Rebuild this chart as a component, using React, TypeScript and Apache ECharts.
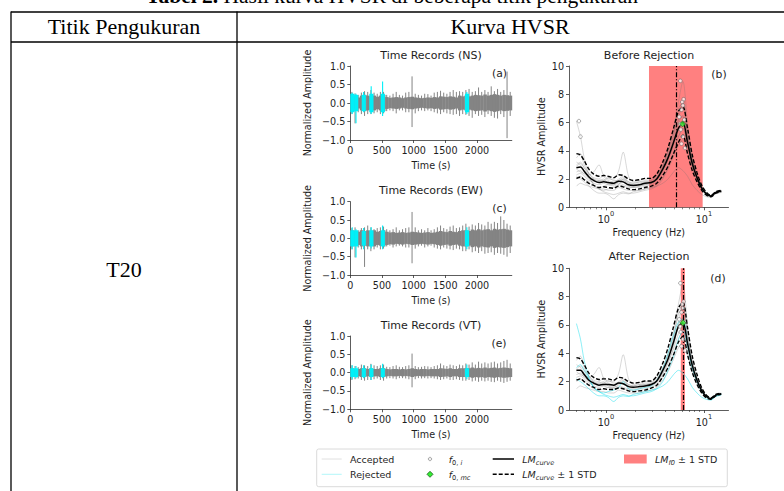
import React, { useEffect, useRef } from 'react';
import * as echarts from 'echarts';

// ---------- Time records (binned envelope, 50 s bins) ----------
const timeBinStarts = [0, 50, 100, 150, 200, 250, 300, 350, 400, 450, 500, 550, 600, 650, 700, 750, 800, 850, 900, 950, 1000, 1050, 1100, 1150, 1200, 1250, 1300, 1350, 1400, 1450, 1500, 1550, 1600, 1650, 1700, 1750, 1800, 1850, 1900, 1950, 2000, 2050, 2100, 2150, 2200, 2250, 2300, 2350, 2400, 2450, 2500];
const timeTicks = [0, 500, 1000, 1500, 2000];

const nsCore = [0.20, 0.18, 0.15, 0.20, 0.22, 0.20, 0.18, 0.20, 0.17, 0.20, 0.22, 0.16, 0.14, 0.15, 0.16, 0.15, 0.13, 0.15, 0.16, 0.17, 0.15, 0.14, 0.13, 0.14, 0.15, 0.14, 0.16, 0.15, 0.18, 0.17, 0.16, 0.18, 0.17, 0.15, 0.20, 0.18, 0.20, 0.18, 0.20, 0.22, 0.21, 0.20, 0.23, 0.20, 0.22, 0.24, 0.22, 0.20, 0.22, 0.21, 0.20];
const nsHi = [0.30, 0.26, 0.22, 0.28, 0.32, 0.30, 0.35, 0.28, 0.25, 0.30, 0.30, 0.22, 0.20, 0.25, 0.30, 0.22, 0.20, 0.28, 0.30, 0.72, 0.25, 0.22, 0.20, 0.25, 0.24, 0.20, 0.28, 0.30, 0.33, 0.28, 0.25, 0.30, 0.35, 0.30, 0.32, 0.30, 0.35, 0.38, 0.30, 0.32, 0.42, 0.30, 0.35, 0.30, 0.45, 0.32, 0.38, 0.30, 0.35, 0.85, 0.30];
const nsLo = [-0.30, -0.55, -0.25, -0.30, -0.35, -0.30, -0.30, -0.28, -0.25, -0.30, -0.28, -0.22, -0.20, -0.22, -0.28, -0.20, -0.20, -0.25, -0.25, -0.65, -0.28, -0.22, -0.20, -0.22, -0.20, -0.22, -0.25, -0.28, -0.30, -0.25, -0.28, -0.30, -0.32, -0.30, -0.35, -0.30, -0.32, -0.35, -0.40, -0.30, -0.35, -0.32, -0.38, -0.30, -0.35, -0.40, -0.42, -0.30, -0.38, -0.95, -0.35];

const ewCore = [0.22, 0.20, 0.18, 0.22, 0.20, 0.22, 0.20, 0.22, 0.18, 0.20, 0.22, 0.18, 0.16, 0.17, 0.15, 0.16, 0.17, 0.15, 0.16, 0.18, 0.17, 0.16, 0.15, 0.16, 0.17, 0.15, 0.16, 0.18, 0.20, 0.18, 0.17, 0.20, 0.18, 0.17, 0.20, 0.22, 0.22, 0.20, 0.24, 0.22, 0.25, 0.22, 0.24, 0.25, 0.22, 0.26, 0.24, 0.25, 0.26, 0.24, 0.22];
const ewHi = [0.28, 0.30, 0.22, 0.28, 0.30, 0.35, 0.30, 0.25, 0.28, 0.30, 0.32, 0.25, 0.22, 0.25, 0.30, 0.22, 0.25, 0.28, 0.30, 0.72, 0.30, 0.22, 0.25, 0.22, 0.28, 0.22, 0.25, 0.30, 0.35, 0.28, 0.25, 0.32, 0.35, 0.28, 0.30, 0.35, 0.40, 0.32, 0.38, 0.35, 0.42, 0.38, 0.35, 0.45, 0.40, 0.45, 0.42, 0.60, 0.50, 0.40, 0.35];
const ewLo = [-0.30, -0.52, -0.25, -0.30, -0.78, -0.30, -0.35, -0.30, -0.25, -0.30, -0.28, -0.22, -0.20, -0.25, -0.22, -0.20, -0.22, -0.25, -0.25, -0.68, -0.28, -0.22, -0.20, -0.25, -0.22, -0.20, -0.25, -0.28, -0.30, -0.25, -0.28, -0.30, -0.32, -0.28, -0.30, -0.35, -0.35, -0.30, -0.38, -0.35, -0.40, -0.35, -0.42, -0.40, -0.38, -0.45, -0.40, -0.42, -0.45, -0.50, -0.40];

const vtCore = [0.12, 0.10, 0.10, 0.12, 0.12, 0.10, 0.12, 0.10, 0.10, 0.12, 0.12, 0.10, 0.09, 0.10, 0.10, 0.09, 0.10, 0.09, 0.10, 0.12, 0.10, 0.09, 0.10, 0.10, 0.09, 0.10, 0.10, 0.10, 0.12, 0.11, 0.10, 0.12, 0.10, 0.10, 0.12, 0.12, 0.12, 0.12, 0.14, 0.12, 0.13, 0.12, 0.14, 0.12, 0.13, 0.14, 0.12, 0.13, 0.14, 0.13, 0.12];
const vtHi = [0.20, 0.18, 0.15, 0.22, 0.20, 0.18, 0.24, 0.20, 0.18, 0.20, 0.22, 0.16, 0.15, 0.18, 0.20, 0.16, 0.15, 0.18, 0.20, 0.52, 0.18, 0.15, 0.16, 0.18, 0.17, 0.15, 0.18, 0.20, 0.25, 0.20, 0.18, 0.22, 0.20, 0.18, 0.22, 0.20, 0.25, 0.22, 0.28, 0.22, 0.30, 0.25, 0.28, 0.25, 0.28, 0.30, 0.25, 0.28, 0.32, 0.35, 0.25];
const vtLo = [-0.20, -0.18, -0.16, -0.20, -0.22, -0.20, -0.20, -0.18, -0.16, -0.20, -0.22, -0.16, -0.15, -0.16, -0.18, -0.15, -0.15, -0.16, -0.18, -0.40, -0.18, -0.15, -0.16, -0.15, -0.16, -0.15, -0.16, -0.18, -0.20, -0.18, -0.16, -0.20, -0.20, -0.18, -0.20, -0.22, -0.22, -0.20, -0.24, -0.22, -0.25, -0.22, -0.24, -0.22, -0.25, -0.26, -0.22, -0.25, -0.28, -0.25, -0.22];

// rejected windows (cyan)
const rejStart = [0, 60, 180, 300, 480, 1810];
const rejEnd = [60, 120, 240, 360, 540, 1870];
const nsRejCore = [0.25, 0.22, 0.22, 0.25, 0.25, 0.25];
const nsRejHi = [0.28, 0.25, 0.30, 0.45, 0.58, 0.30];
const nsRejLo = [-0.30, -0.55, -0.25, -0.30, -0.35, -0.30];
const ewRejCore = [0.22, 0.22, 0.20, 0.22, 0.22, 0.22];
const ewRejHi = [0.30, 0.25, 0.28, 0.30, 0.35, 0.30];
const ewRejLo = [-0.30, -0.52, -0.30, -0.28, -0.30, -0.30];
const vtRejCore = [0.12, 0.12, 0.12, 0.12, 0.12, 0.12];
const vtRejHi = [0.20, 0.18, 0.20, 0.22, 0.24, 0.22];
const vtRejLo = [-0.18, -0.15, -0.15, -0.20, -0.15, -0.18];

// ---------- HVSR curves ----------
const freqs = [0.5, 0.55, 0.6, 0.67, 0.75, 0.85, 0.95, 1.05, 1.2, 1.35, 1.5, 1.7, 1.9, 2.2, 2.5, 2.9, 3.3, 3.8, 4.3, 4.9, 5.5, 6.1, 6.8, 7.6, 8.5, 9.5, 10.6, 11.8, 13.2, 15];
const freqMajorTicks = [1, 10];
const freqMinorTicks = [0.5, 0.6, 0.7, 0.8, 0.9, 2, 3, 4, 5, 6, 7, 8, 9];

const lmBefore = [2.8, 2.85, 2.55, 2.15, 1.9, 1.75, 1.8, 1.75, 1.7, 1.85, 1.8, 1.6, 1.55, 1.6, 1.7, 1.75, 2.0, 2.7, 3.5, 4.6, 5.6, 6.0, 4.6, 3.1, 2.1, 1.35, 0.95, 0.8, 1.05, 1.15];
const lmBeforeUp = [3.8, 3.7, 3.3, 2.7, 2.35, 2.2, 2.25, 2.2, 2.1, 2.3, 2.25, 2.0, 1.9, 1.95, 2.05, 2.05, 2.35, 3.2, 4.2, 5.6, 6.8, 7.1, 5.6, 3.7, 2.45, 1.55, 1.05, 0.85, 1.1, 1.2];
const lmBeforeLo = [2.05, 2.15, 1.95, 1.7, 1.55, 1.4, 1.45, 1.4, 1.35, 1.5, 1.45, 1.3, 1.25, 1.3, 1.4, 1.5, 1.7, 2.25, 2.9, 3.8, 4.6, 5.1, 3.8, 2.6, 1.8, 1.2, 0.85, 0.75, 1.0, 1.1];
const lmAfter = [2.8, 2.8, 2.5, 2.1, 1.9, 1.75, 1.8, 1.8, 1.75, 1.9, 1.85, 1.65, 1.6, 1.65, 1.7, 1.8, 2.05, 2.8, 3.6, 4.8, 5.9, 6.15, 4.7, 3.15, 2.1, 1.35, 0.95, 0.8, 1.05, 1.15];
const lmAfterUp = [3.7, 3.6, 3.2, 2.6, 2.3, 2.15, 2.2, 2.2, 2.1, 2.3, 2.25, 2.0, 1.9, 1.95, 2.05, 2.05, 2.4, 3.3, 4.4, 5.9, 7.2, 7.6, 5.8, 3.8, 2.5, 1.55, 1.05, 0.85, 1.1, 1.2];
const lmAfterLo = [2.1, 2.2, 2.0, 1.75, 1.6, 1.45, 1.5, 1.45, 1.45, 1.55, 1.5, 1.35, 1.3, 1.35, 1.4, 1.55, 1.75, 2.35, 3.0, 3.9, 4.8, 5.2, 3.9, 2.65, 1.8, 1.2, 0.85, 0.75, 1.0, 1.1];

const win1 = [3.5, 3.8, 3.0, 2.4, 2.1, 2.0, 2.3, 2.0, 2.0, 2.6, 3.9, 2.2, 1.8, 1.9, 2.0, 2.0, 2.3, 3.0, 4.0, 5.6, 7.5, 8.9, 6.0, 3.6, 2.3, 1.5, 1.0, 0.8, 1.1, 1.2];
const win2 = [2.5, 2.6, 2.3, 2.0, 1.7, 1.6, 1.7, 1.6, 1.6, 1.7, 1.6, 1.5, 1.5, 1.5, 1.6, 1.7, 1.9, 2.5, 3.3, 4.5, 6.2, 7.6, 5.4, 3.3, 2.2, 1.4, 0.95, 0.8, 1.05, 1.15];
const win3 = [2.0, 2.2, 2.0, 1.8, 1.5, 1.4, 1.5, 1.6, 1.5, 1.6, 1.5, 1.4, 1.4, 1.4, 1.5, 1.6, 1.8, 2.3, 3.0, 4.0, 5.0, 5.6, 4.3, 2.9, 2.0, 1.3, 0.9, 0.78, 1.02, 1.12];
const win4 = [3.2, 3.0, 2.6, 2.2, 2.0, 1.9, 1.9, 2.1, 1.9, 1.9, 2.0, 1.8, 1.7, 1.8, 1.9, 1.9, 2.1, 2.8, 3.7, 5.0, 6.8, 7.2, 5.0, 3.2, 2.1, 1.4, 0.95, 0.8, 1.05, 1.15];
const win5 = [1.5, 1.7, 1.6, 1.5, 1.4, 1.3, 1.3, 1.2, 1.2, 1.4, 1.3, 1.2, 1.2, 1.2, 1.3, 1.4, 1.6, 2.1, 2.7, 3.6, 4.4, 4.8, 3.9, 2.7, 1.9, 1.25, 0.88, 0.76, 1.0, 1.1];
const win6 = [2.9, 3.1, 2.8, 2.4, 2.0, 1.8, 1.9, 1.8, 1.7, 1.9, 2.1, 1.7, 1.6, 1.7, 1.8, 1.8, 2.1, 2.7, 3.6, 4.8, 6.0, 6.5, 4.8, 3.2, 2.1, 1.35, 0.95, 0.8, 1.05, 1.15];
const win7 = [2.3, 2.4, 2.2, 1.9, 1.8, 1.9, 2.0, 1.7, 1.6, 1.8, 1.9, 1.7, 1.6, 1.6, 1.7, 1.8, 2.0, 2.6, 3.4, 4.3, 5.4, 5.9, 4.6, 3.0, 2.0, 1.35, 0.95, 0.8, 1.05, 1.15];
const win8 = [2.7, 2.5, 2.4, 2.3, 2.5, 3.0, 2.2, 1.9, 1.8, 2.0, 2.2, 1.8, 1.7, 1.8, 1.8, 1.9, 2.2, 2.9, 3.9, 5.2, 7.0, 7.4, 5.2, 3.4, 2.2, 1.4, 1.0, 0.82, 1.05, 1.15];
const rej1 = [6.1, 5.0, 3.5, 2.3, 1.6, 1.3, 1.1, 1.0, 0.9, 1.0, 1.1, 1.0, 1.0, 1.1, 1.2, 1.3, 1.5, 2.0, 2.8, 3.8, 5.0, 5.6, 4.5, 3.0, 2.0, 1.3, 0.9, 0.75, 1.0, 1.1];
const rej2 = [2.2, 2.0, 1.8, 1.5, 1.2, 1.0, 1.0, 0.9, 0.6, 0.9, 1.0, 0.95, 1.1, 1.2, 1.3, 1.4, 1.5, 1.7, 2.0, 2.5, 2.8, 2.6, 2.2, 1.6, 1.2, 0.9, 0.75, 0.7, 0.95, 1.05];
const rej3 = [3.0, 3.2, 2.8, 2.2, 1.6, 1.3, 1.2, 1.3, 1.4, 1.6, 2.0, 1.5, 1.4, 1.5, 1.6, 1.7, 2.1, 2.9, 4.0, 5.3, 6.2, 6.4, 4.8, 3.1, 2.1, 1.35, 0.95, 0.8, 1.05, 1.15];

const f0iBeforeF = [0.53, 0.55, 5.75, 6.2, 6.0, 6.1, 5.9, 5.6, 6.3, 5.7, 5.8, 6.1, 5.9, 6.4];
const f0iBeforeA = [6.1, 5.0, 8.95, 7.65, 7.45, 7.2, 6.9, 6.4, 6.2, 5.9, 5.5, 5.0, 4.5, 4.2];
const f0iAfterF = [5.75, 6.2, 6.0, 6.1, 5.9, 5.6, 6.3, 5.7, 5.8, 6.1, 5.9, 6.4];
const f0iAfterA = [8.95, 7.65, 7.45, 7.2, 6.9, 6.4, 6.2, 5.9, 5.5, 5.0, 4.5, 4.2];
const f0mcBefore = [6.05, 5.9];
const f0mcAfter = [6.1, 6.15];
const lmF0Before = 5.26;
const lmF0BandBefore = [2.75, 9.7];
const lmF0After = 6.1;
const lmF0BandAfter = [5.8, 6.4];

const FF = 'DejaVu Sans';
const SERIF = 'Liberation Serif';
const GRAY = '#848484';
const CYAN = '#00f0f8';
const AX = { color: '#333', width: 0.8 };
const TXT = '#1e1e1e';

function binSeries(idx: number, data: number[][], color: string) {
  return {
    type: 'custom', xAxisIndex: idx, yAxisIndex: idx, silent: true, z: 2,
    data, encode: { x: [0, 1], y: [2, 3] },
    renderItem: (_p: any, api: any) => {
      const a = api.coord([api.value(0), api.value(3)]);
      const b = api.coord([api.value(1), api.value(2)]);
      return { type: 'rect', shape: { x: a[0], y: a[1], width: b[0] - a[0] + 0.4, height: b[1] - a[1] }, style: { fill: color } };
    },
  };
}
function spikeSeries(idx: number, data: number[][], color: string, w: number) {
  return {
    type: 'custom', xAxisIndex: idx, yAxisIndex: idx, silent: true, z: 3,
    data, encode: { x: 0, y: [1, 2] },
    renderItem: (_p: any, api: any) => {
      const a = api.coord([api.value(0), api.value(2)]);
      const b = api.coord([api.value(0), api.value(1)]);
      return { type: 'line', shape: { x1: a[0], y1: a[1], x2: b[0], y2: b[1] }, style: { stroke: color, lineWidth: w } };
    },
  };
}
function timeSeries(idx: number, core: number[], hi: number[], lo: number[], rc: number[], rh: number[], rl: number[]) {
  const bins = timeBinStarts.map((t, i) => [t, t + 50, -core[i], core[i]]);
  const spikes = timeBinStarts.map((t, i) => [t + 25, lo[i], hi[i]]);
  const rbins = rejStart.map((t, i) => [t, rejEnd[i], -rc[i], rc[i]]);
  const rspikes = rejStart.map((t, i) => [(t + rejEnd[i]) / 2, rl[i], rh[i]]);
  return [
    binSeries(idx, bins, GRAY),
    spikeSeries(idx, spikes, GRAY, 1),
    { ...binSeries(idx, rbins, CYAN), z: 4 },
    { ...spikeSeries(idx, rspikes, CYAN, 1.1), z: 5 },
  ];
}
const pts = (ys: number[]) => freqs.map((f, i) => [f, ys[i]]);

function hvsrSeries(idx: number, after: boolean) {
  const lm = after ? lmAfter : lmBefore;
  const up = after ? lmAfterUp : lmBeforeUp;
  const lo = after ? lmAfterLo : lmBeforeLo;
  const band = after ? lmF0BandAfter : lmF0BandBefore;
  const f0 = after ? lmF0After : lmF0Before;
  const fF = after ? f0iAfterF : f0iBeforeF;
  const fA = after ? f0iAfterA : f0iBeforeA;
  const mc = after ? f0mcAfter : f0mcBefore;
  const accepted = [win1, win2, win3, win4, win5, win6, win7, win8];
  const rejected = [rej1, rej2, rej3];
  const base = { type: 'line', xAxisIndex: idx, yAxisIndex: idx, showSymbol: false, silent: true, smooth: 0.3 };
  const grayLine = { color: 'rgba(110,110,110,0.45)', width: 0.6 };
  const s: any[] = [];
  s.push({
    ...base, data: [], z: 1,
    markArea: { silent: true, itemStyle: { color: '#ff8080' }, data: [[{ xAxis: band[0] }, { xAxis: band[1] }]] },
  });
  accepted.forEach((w) => s.push({ ...base, data: pts(w), z: 2, lineStyle: grayLine }));
  rejected.forEach((w) => s.push({ ...base, data: pts(w), z: 2, lineStyle: after ? { color: 'rgba(0,220,235,0.75)', width: 0.6 } : grayLine }));
  s.push({ ...base, data: pts(lm), z: 4, lineStyle: { color: '#000', width: 1.5 } });
  s.push({ ...base, data: pts(up), z: 4, lineStyle: { color: '#000', width: 1.4, type: [4, 2] } });
  s.push({ ...base, data: pts(lo), z: 4, lineStyle: { color: '#000', width: 1.4, type: [4, 2] } });
  s.push({
    ...base, data: [], z: 5,
    markLine: { silent: true, symbol: 'none', label: { show: false }, lineStyle: { color: '#000', width: 1.2, type: [5, 2, 1, 2] }, data: [{ xAxis: f0 }] },
  });
  s.push({
    type: 'scatter', xAxisIndex: idx, yAxisIndex: idx, silent: true, z: 6, symbol: 'circle', symbolSize: 3.6,
    itemStyle: { color: 'rgba(255,255,255,0.9)', borderColor: '#555', borderWidth: 0.6 },
    data: fF.map((f, i) => [f, fA[i]]),
  });
  s.push({
    type: 'scatter', xAxisIndex: idx, yAxisIndex: idx, silent: true, z: 7, symbol: 'diamond', symbolSize: 6,
    itemStyle: { color: '#33ee33', borderColor: '#1a5a1a', borderWidth: 0.8 },
    data: [mc],
  });
  return s;
}

const tickLabel = { fontSize: 9.6, color: TXT, fontFamily: FF };
const nameStyle = { fontSize: 9.6, color: TXT, fontFamily: FF };

function timeX(gi: number) {
  return {
    type: 'value', gridIndex: gi, min: 0, max: 2550,
    axisLine: { show: true, onZero: false, lineStyle: AX },
    axisTick: { show: true, length: 3, customValues: timeTicks, lineStyle: AX },
    axisLabel: { ...tickLabel, margin: 5, customValues: timeTicks, formatter: (v: number) => String(v) },
    splitLine: { show: false },
    name: 'Time (s)', nameLocation: 'middle', nameGap: 20, nameTextStyle: nameStyle,
  };
}
function timeY(gi: number) {
  return {
    type: 'value', gridIndex: gi, min: -1, max: 1, interval: 0.5,
    axisLine: { show: true, onZero: false, lineStyle: AX },
    axisTick: { show: true, length: 3, lineStyle: AX },
    axisLabel: { ...tickLabel, margin: 5, formatter: (v: number) => (v < 0 ? '\u2212' : '') + Math.abs(v).toFixed(1) },
    splitLine: { show: false },
    name: 'Normalized Amplitude', nameLocation: 'middle', nameGap: 38, nameTextStyle: nameStyle,
  };
}
function freqX(gi: number) {
  return {
    type: 'log', gridIndex: gi, min: 0.42, max: 17.8,
    axisLine: { show: true, onZero: false, lineStyle: AX },
    axisTick: { show: true, length: 3, customValues: freqMajorTicks, lineStyle: AX },
    axisLabel: {
      ...tickLabel, margin: 3, customValues: freqMajorTicks,
      formatter: (v: number) => '{b|10}{s|' + Math.round(Math.log10(v)) + '}',
      rich: {
        b: { fontSize: 9.6, fontFamily: FF, color: TXT, lineHeight: 14, verticalAlign: 'bottom' },
        s: { fontSize: 6.7, fontFamily: FF, color: TXT, lineHeight: 14, verticalAlign: 'top' },
      },
    },
    splitLine: { show: false },
    name: 'Frequency (Hz)', nameLocation: 'middle', nameGap: 20, nameTextStyle: nameStyle,
  };
}
function freqMinorX(gi: number) {
  return {
    type: 'log', gridIndex: gi, min: 0.42, max: 17.8, position: 'bottom',
    axisLine: { show: false, onZero: false },
    axisTick: { show: true, length: 2, customValues: freqMinorTicks, lineStyle: { color: '#333', width: 0.6 } },
    axisLabel: { show: false },
    splitLine: { show: false },
  };
}
function hvsrY(gi: number) {
  return {
    type: 'value', gridIndex: gi, min: 0, max: 10, interval: 2,
    axisLine: { show: true, onZero: false, lineStyle: AX },
    axisTick: { show: true, length: 3, lineStyle: AX },
    axisLabel: { ...tickLabel, margin: 5 },
    splitLine: { show: false },
    name: 'HVSR Amplitude', nameLocation: 'middle', nameGap: 23, nameTextStyle: nameStyle,
  };
}

function txt(x: number, y: number, text: string, size: number, extra: any = {}) {
  return {
    type: 'text', x, y, silent: true,
    style: { text, fontSize: size, fontFamily: FF, fill: TXT, align: 'center', verticalAlign: 'middle', ...extra },
  };
}

const legRich = {
  n: { fontSize: 9.5, fontFamily: FF, fill: TXT, lineHeight: 14, verticalAlign: 'middle' },
  i: { fontSize: 9.5, fontFamily: FF, fontStyle: 'italic', fill: TXT, lineHeight: 14, verticalAlign: 'middle' },
  s: { fontSize: 6.6, fontFamily: FF, fill: TXT, lineHeight: 14, verticalAlign: 'bottom' },
  si: { fontSize: 6.6, fontFamily: FF, fontStyle: 'italic', fill: TXT, lineHeight: 14, verticalAlign: 'bottom' },
};
function legText(x: number, y: number, text: string) {
  return { type: 'text', x, y, silent: true, style: { text, rich: legRich, align: 'left', verticalAlign: 'middle', fontSize: 9.5, fontFamily: FF, fill: TXT } };
}

export default function App() {
  const ref = useRef<HTMLDivElement>(null);
  useEffect(() => {
    if (!ref.current) return;
    const chart = echarts.init(ref.current, undefined, { renderer: 'svg' });
    const grids = [
      { left: 350.3, top: 66, width: 161.5, height: 74 },
      { left: 350.3, top: 201.7, width: 161.5, height: 73.3 },
      { left: 350.3, top: 336, width: 161.5, height: 73.3 },
      { left: 569, top: 66, width: 159.5, height: 141.3 },
      { left: 569, top: 268.3, width: 159.5, height: 141.7 },
    ];
    const line = (x1: number, y1: number, x2: number, y2: number, w = 1.3) => ({
      type: 'line', silent: true, shape: { x1, y1, x2, y2 }, style: { stroke: '#000', lineWidth: w },
    });
    const graphic: any[] = [
      // table
      line(11, 12, 784, 12), line(11, 42, 784, 42), line(11, 11.4, 11, 491), line(237, 11.4, 237, 491),
      {
        type: 'text', x: 392, y: -4.5, silent: true,
        style: {
          text: '{b|Tabel 2.}{r| Hasil kurva HVSR di beberapa titik pengukuran}', align: 'center', verticalAlign: 'middle',
          rich: {
            b: { fontSize: 21.5, fontFamily: SERIF, fontWeight: 'bold', fill: '#000' },
            r: { fontSize: 21.5, fontFamily: SERIF, fill: '#000' },
          },
        },
      },
      txt(124, 26, 'Titik Pengukuran', 22, { fontFamily: SERIF, fill: '#000' }),
      txt(510, 26, 'Kurva HVSR', 22, { fontFamily: SERIF, fill: '#000' }),
      txt(124, 269, 'T20', 22, { fontFamily: SERIF, fill: '#000' }),
      // subplot titles / tags
      txt(431, 55, 'Time Records (NS)', 11),
      txt(431, 190, 'Time Records (EW)', 11),
      txt(431, 325, 'Time Records (VT)', 11),
      txt(649, 55, 'Before Rejection', 11),
      txt(649, 256.7, 'After Rejection', 11),
      txt(499.5, 73, '(a)', 10.8),
      txt(499.5, 208, '(c)', 10.8),
      txt(499, 343, '(e)', 10.8),
      txt(719, 74, '(b)', 10.8),
      txt(718, 278.3, '(d)', 10.8),
      // legend
      { type: 'rect', silent: true, shape: { x: 316.7, y: 449, width: 410.6, height: 37.7, r: 2 }, style: { fill: '#fff', stroke: '#d0d0d0', lineWidth: 0.8 } },
      { type: 'line', silent: true, shape: { x1: 321.7, y1: 459, x2: 341.7, y2: 459 }, style: { stroke: '#d8d8d8', lineWidth: 0.8 } },
      { type: 'line', silent: true, shape: { x1: 321.7, y1: 474.3, x2: 341.7, y2: 474.3 }, style: { stroke: '#9ff4f8', lineWidth: 0.8 } },
      legText(350, 459, '{n|Accepted}'),
      legText(350, 474.3, '{n|Rejected}'),
      { type: 'circle', silent: true, shape: { cx: 430, cy: 459, r: 1.7 }, style: { fill: '#eee', stroke: '#777', lineWidth: 0.6 } },
      { type: 'polygon', silent: true, shape: { points: [[430, 471.3], [433, 474.3], [430, 477.3], [427, 474.3]] }, style: { fill: '#33ee33', stroke: '#1a5a1a', lineWidth: 0.8 } },
      legText(448.7, 459, '{i|f}{s|0, }{si|i}'),
      legText(448.7, 474.3, '{i|f}{s|0, }{si|mc}'),
      { type: 'line', silent: true, shape: { x1: 492.7, y1: 459, x2: 514, y2: 459 }, style: { stroke: '#000', lineWidth: 1.5 } },
      { type: 'line', silent: true, shape: { x1: 492.7, y1: 474.3, x2: 514, y2: 474.3 }, style: { stroke: '#000', lineWidth: 1.5, lineDash: [4, 2] } },
      legText(522.3, 459, '{i|LM}{si|curve}'),
      legText(522.3, 474.3, '{i|LM}{si|curve}{n| \u00b1 1 STD}'),
      { type: 'rect', silent: true, shape: { x: 624, y: 454.5, width: 22.7, height: 9 }, style: { fill: '#ff8080' } },
      legText(655, 459, '{i|LM}{si|f0}{n| \u00b1 1 STD}'),
    ];
    const option: any = {
      animation: false,
      grid: grids,
      xAxis: [timeX(0), timeX(1), timeX(2), freqX(3), freqX(4), freqMinorX(3), freqMinorX(4)],
      yAxis: [timeY(0), timeY(1), timeY(2), hvsrY(3), hvsrY(4)],
      series: [
        ...timeSeries(0, nsCore, nsHi, nsLo, nsRejCore, nsRejHi, nsRejLo),
        ...timeSeries(1, ewCore, ewHi, ewLo, ewRejCore, ewRejHi, ewRejLo),
        ...timeSeries(2, vtCore, vtHi, vtLo, vtRejCore, vtRejHi, vtRejLo),
        ...hvsrSeries(3, false),
        ...hvsrSeries(4, true),
      ],
      graphic,
    };
    chart.setOption(option);
    return () => chart.dispose();
  }, []);
  return <div ref={ref} style={{ position: 'absolute', left: 0, top: 0, width: 784, height: 491, background: '#fff' }} />;
}
